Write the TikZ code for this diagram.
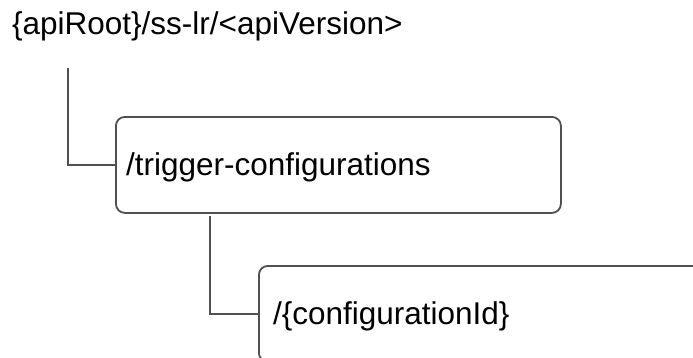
\documentclass[tikz,border=0pt]{standalone}
\usepackage{fontspec}
\setmainfont{Liberation Sans}
\begin{document}
\begin{tikzpicture}[x=1bp,y=-1bp,
  box/.style={draw=linegray, line width=1.8bp, rounded corners=9bp, minimum width=445bp, minimum height=96bp, anchor=north west, inner sep=0pt},
  lbl/.style={anchor=base west, inner sep=0pt, font=\fontsize{31.6pt}{36pt}\selectfont, text=black},
  conn/.style={draw=linegray, line width=1.6bp}]
\definecolor{linegray}{HTML}{505050}
\useasboundingbox (0,0) rectangle (693,357);
\clip (0,0) rectangle (693,357);
\node[lbl] (root) at (12,34) {\{apiRoot\}/ss-lr/<apiVersion>};
\node[box] (b1) at (115,116) {};
\node[lbl] (t1) at (126,175) {/trigger-configurations};
\node[box] (b2) at (258,265) {};
\node[lbl] (t2) at (273,324) {/\{configurationId\}};
\coordinate (c1) at (68,68);
\coordinate (c2) at (210,216);
\draw[conn] (c1) |- (b1.west);
\draw[conn] (c2) |- (b2.west);
\end{tikzpicture}
\end{document}
